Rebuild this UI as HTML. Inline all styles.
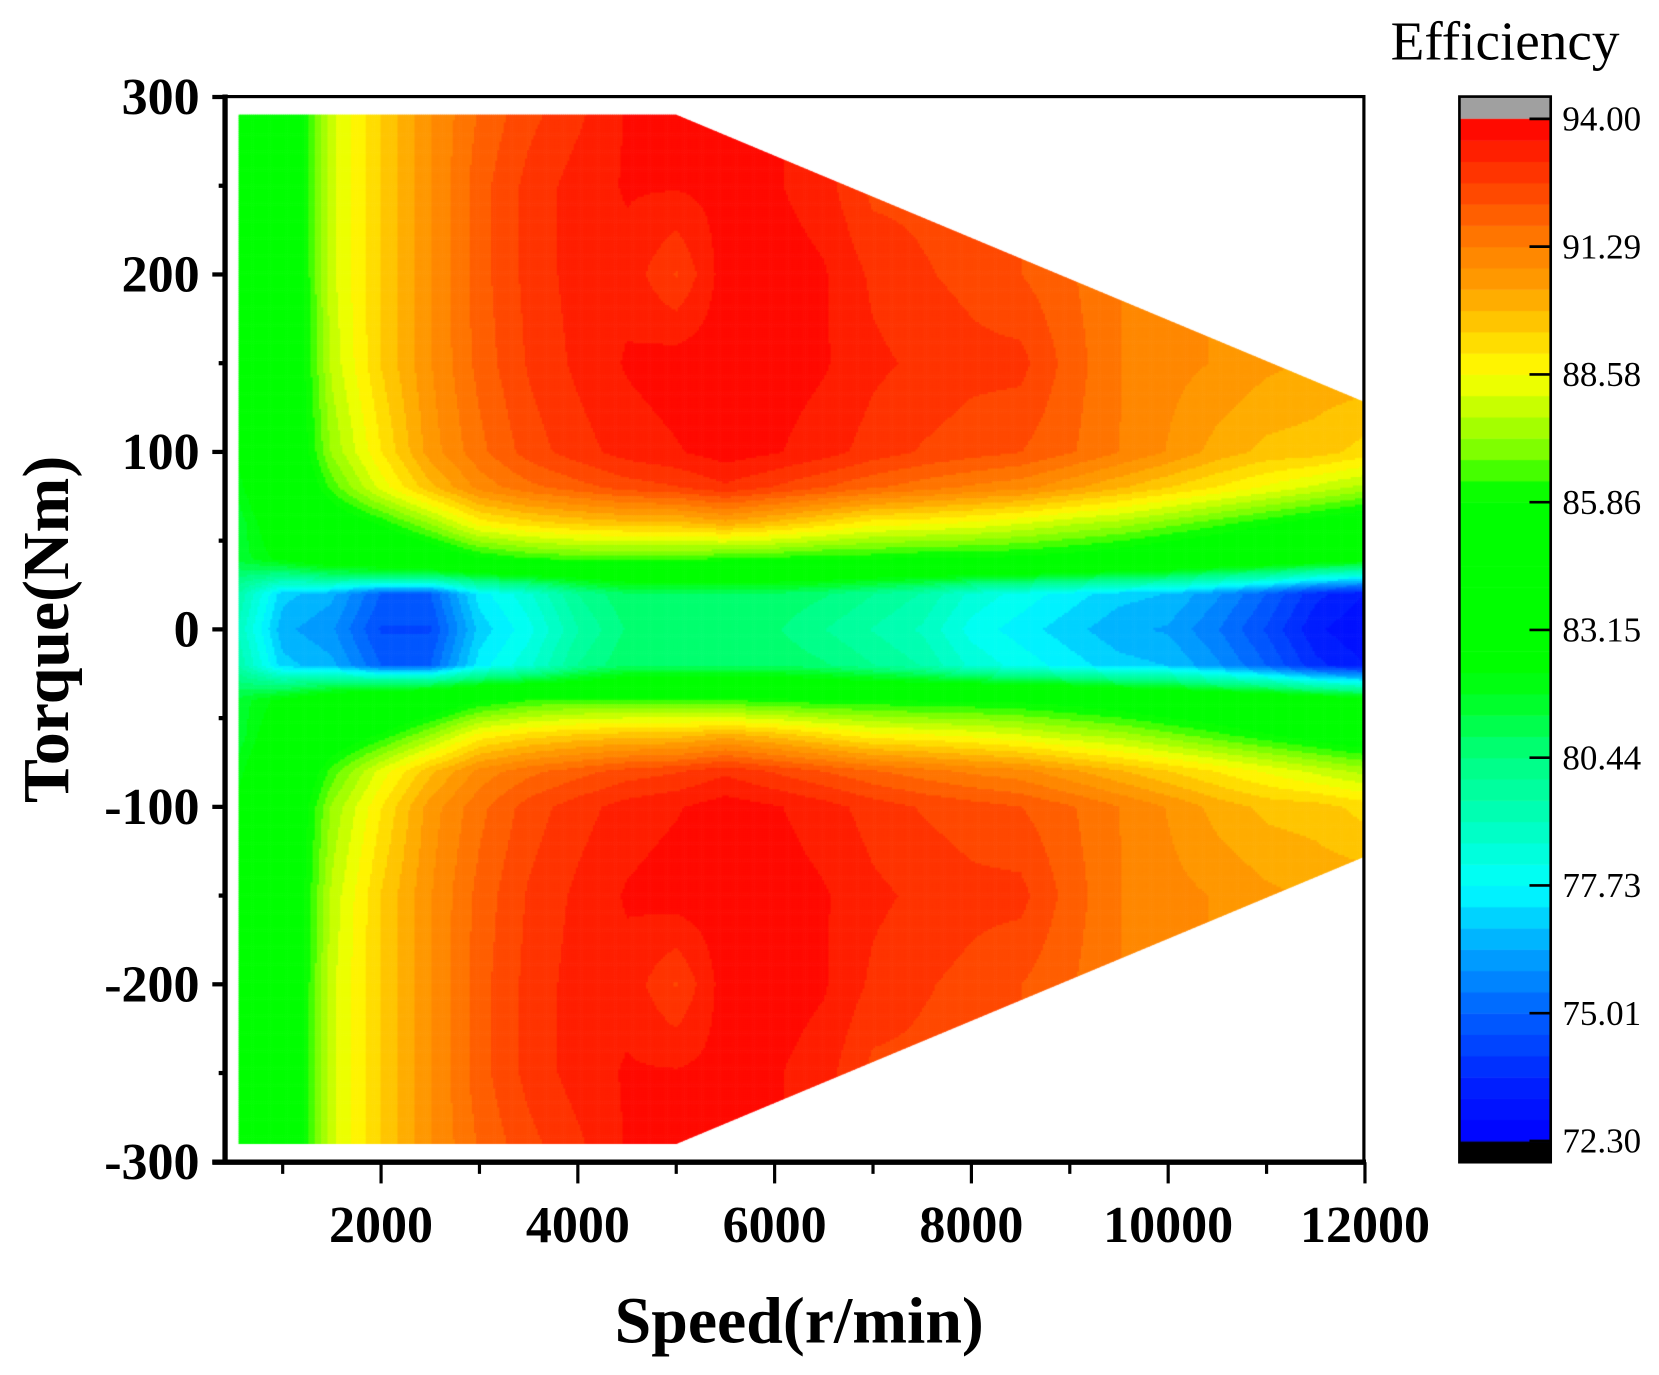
<!DOCTYPE html>
<html><head><meta charset="utf-8">
<style>
html,body{margin:0;padding:0;background:#fff;}
#wrap{position:relative;width:1659px;height:1375px;overflow:hidden;}
canvas,svg{position:absolute;left:0;top:0;}
text{font-family:"Liberation Serif",serif;}
</style></head>
<body>
<div id="wrap">
<canvas id="cv" width="1659" height="1375"></canvas>
<svg id="sv" width="1659" height="1375" viewBox="0 0 1563 1295.5"></svg>
</div>
<script>
// ---- data ----
const speeds = [550,1000,1500,2000,2500,3000,3500,4000,4500,5000,5500,6000,6500,7000,7500,8000,8500,9000,9500,10000,10500,11000,11500,12000];
const torques = [0,20,30,40,60,80,100,150,200,250,290]; // |torque|, map symmetric
const eff = [
 [79.0,79.5,80.5,81.5,81.5,82.0,82.5,82.5,82.5,82.5,82.5],
 [76.5,77.0,80.0,82.5,83.2,84.0,84.3,84.3,84.3,84.3,84.3],
 [76.0,76.5,80.5,83.5,85.0,86.5,87.3,87.8,88.0,88.0,88.0],
 [74.5,75.0,80.5,84.0,86.0,88.3,89.0,89.5,89.5,89.5,89.5],
 [74.5,75.0,80.5,84.8,87.3,89.8,90.6,90.8,90.8,90.8,90.8],
 [77.0,77.5,81.5,85.8,88.8,91.0,91.6,91.9,92.0,92.0,91.8],
 [78.0,78.5,82.0,86.3,89.3,91.6,92.4,92.7,92.8,92.8,92.5],
 [79.5,80.0,82.5,86.5,89.6,92.0,92.9,93.2,93.3,93.3,93.0],
 [80.5,80.8,83.0,86.5,89.8,92.4,93.3,93.6,93.4,93.6,93.6],
 [80.5,80.8,83.0,86.5,89.8,92.6,93.5,93.8,92.6,93.6,93.6],
 [80.5,80.8,83.0,86.3,90.2,93.0,93.8,93.8,93.8,93.7,93.7],
 [80.5,80.8,83.0,86.2,89.8,92.6,93.6,93.8,93.8,93.6,93.6],
 [80.0,80.5,82.8,86.0,89.3,92.2,93.3,93.6,93.6,93.3,93.3],
 [79.5,80.0,82.5,86.0,88.8,91.8,92.9,93.2,93.0,92.5,92.5],
 [79.0,79.5,82.3,85.8,88.7,91.5,92.6,93.0,92.7,92.5,92.5],
 [78.0,78.5,82.0,85.8,88.5,91.2,92.4,92.8,92.5,92.5,92.5],
 [77.5,78.0,81.8,85.7,88.2,91.0,92.2,92.8,92.2,92.2,92.2],
 [77.0,77.5,81.5,85.5,87.8,90.5,91.8,92.0,91.8,91.8,91.8],
 [76.5,77.0,81.0,85.2,87.5,90.0,91.3,91.3,91.3,91.3,91.3],
 [76.3,76.8,80.8,84.8,87.0,89.5,90.8,91.0,91.0,91.0,91.0],
 [75.5,76.0,80.0,84.5,86.5,89.0,90.2,90.8,90.8,90.8,90.8],
 [74.5,75.0,79.5,84.0,86.0,88.5,89.8,90.5,90.5,90.5,90.5],
 [73.3,73.8,78.5,83.5,85.5,88.0,89.7,90.3,90.3,90.3,90.3],
 [72.8,73.2,78.0,83.0,85.0,87.5,89.3,90.3,90.3,90.3,90.3]
];
const envSpeed = [550,5000,12000];
const envTorque = [290,290,128];
const xTicks = [2000,4000,6000,8000,10000,12000];
const yTicks = [300,200,100,0,-100,-200,-300];
const cbLabels = ["94.00","91.29","88.58","85.86","83.15","80.44","77.73","75.01","72.30"];
const vMin = 72.3, vMax = 94.0, nLevels = 48;

// ---- scales (in 1563-wide view coords) ----
const K = 1659/1563;
const L=212, R=1285, T=91, B=1095;
const sx = s => 173.6 + (s)*0.0927;
const sy = t => 593 - t*1.672;

const stops = [[72.3,[0,0,255]],[73.5,[0,32,255]],[75,[0,96,255]],[76.4,[0,168,255]],[77.7,[0,255,255]],[79,[0,255,192]],[80.44,[0,255,128]],[81.5,[0,255,48]],[82.3,[0,255,0]],[86.0,[0,255,0]],[87,[128,255,0]],[88.58,[255,255,0]],[89.5,[255,208,0]],[90.4,[255,160,0]],[91.29,[255,128,0]],[92.6,[255,64,0]],[94,[255,0,0]]];
function cmap(v){
  if(v<=stops[0][0]) return stops[0][1];
  for(let i=1;i<stops.length;i++){ if(v<=stops[i][0]){ const a=stops[i-1],b=stops[i],f=(v-a[0])/(b[0]-a[0]); return a[1].map((c,j)=>Math.round(c+(b[1][j]-c)*f)); } }
  return stops[stops.length-1][1];
}
function levelColor(v){
  const step=(vMax-vMin)/nLevels;
  let k=Math.floor((v-vMin)/step); k=Math.max(0,Math.min(nLevels-1,k));
  const c=cmap(vMin+(k+0.5)*step); return `rgb(${c[0]},${c[1]},${c[2]})`;
}
function seg(arr,v){ let i=0; while(i<arr.length-2 && v>arr[i+1]) i++; let f=(v-arr[i])/(arr[i+1]-arr[i]); f=Math.max(0,Math.min(1,f)); return [i,f]; }
function value(s,t){
  const [i,fi]=seg(speeds,s), [j,fj]=seg(torques,Math.abs(t));
  const a=eff[i][j]*(1-fj)+eff[i][j+1]*fj, b=eff[i+1][j]*(1-fj)+eff[i+1][j+1]*fj;
  return a*(1-fi)+b*fi;
}

// ---- field ----
const cv=document.getElementById('cv'), ctx=cv.getContext('2d');
ctx.scale(K,K);
ctx.save();
ctx.beginPath();
ctx.moveTo(sx(envSpeed[0]),sy(envTorque[0]));
for(let i=1;i<envSpeed.length;i++) ctx.lineTo(sx(envSpeed[i]),sy(envTorque[i]));
for(let i=envSpeed.length-1;i>=0;i--) ctx.lineTo(sx(envSpeed[i]),sy(-envTorque[i]));
ctx.closePath(); ctx.clip();
const step=2;
for(let px=sx(speeds[0]); px<sx(12000); px+=step){
  const s=(px+step/2-173.6)/0.0927;
  for(let py=sy(300); py<sy(-300); py+=step){
    const t=(593-(py+step/2))/1.672;
    ctx.fillStyle=levelColor(value(s,t));
    ctx.fillRect(px,py,step+0.6,step+0.6);
  }
}
ctx.restore();

// ---- colorbar ----
const cbX=1375, cbW=86, cbTop=112, cbBot=1075;
ctx.fillStyle='#a0a0a0'; ctx.fillRect(cbX,T,cbW,cbTop-T);
ctx.fillStyle='#000'; ctx.fillRect(cbX,cbBot,cbW,B-cbBot);
const bh=(cbBot-cbTop)/nLevels;
for(let k=0;k<nLevels;k++){
  const v=vMin+(k+0.5)*(vMax-vMin)/nLevels;
  ctx.fillStyle=levelColor(v);
  ctx.fillRect(cbX,cbBot-(k+1)*bh,cbW,bh+0.5);
}

// ---- svg axes ----
const NS='http://www.w3.org/2000/svg', svg=document.getElementById('sv');
function el(tag,attrs,txt){ const e=document.createElementNS(NS,tag); for(const k in attrs) e.setAttribute(k,attrs[k]); if(txt!==undefined) e.textContent=txt; svg.appendChild(e); return e; }
let e;
e=el('rect',{x:L,y:T,width:R-L,height:B-T,fill:'none',stroke:'#000','stroke-width':3});


e=el('line',{x1:L,y1:T-2,x2:L,y2:B+2,stroke:'#000','stroke-width':5});


e=el('line',{x1:L-12,y1:B,x2:R+2,y2:B,stroke:'#000','stroke-width':5});


for(let s=1000;s<=12000;s+=1000){
  const major=s%2000===0;
  e=el('line',{x1:sx(s),y1:B,x2:sx(s),y2:B+(major?20:11),stroke:'#000','stroke-width':3});
  
  
}
xTicks.forEach(s=>{
  e=el('text',{x:sx(s),y:1170,'text-anchor':'middle','font-size':49,'font-weight':'bold'},String(s));
  
  
});
for(let t=-300;t<=300;t+=50){
  const major=t%100===0;
  e=el('line',{x1:L,y1:sy(t),x2:L-(major?12:6),y2:sy(t),stroke:'#000','stroke-width':4});
  
  
}
yTicks.forEach(t=>{
  e=el('text',{x:188,y:sy(t)+16,'text-anchor':'end','font-size':49,'font-weight':'bold'},String(t));
  
  
});
e=el('text',{x:753,y:1265,'text-anchor':'middle','font-size':62,'font-weight':'bold'},'Speed(r/min)');


e=el('text',{x:0,y:0,'text-anchor':'middle','font-size':62,'font-weight':'bold',transform:'translate(64,593) rotate(-90)'},'Torque(Nm)');


e=el('rect',{x:cbX,y:T,width:cbW,height:B-T,fill:'none',stroke:'#000','stroke-width':2.5});


cbLabels.forEach((lab,i)=>{
  const y=cbTop+i*(cbBot-cbTop)/(cbLabels.length-1);
  e=el('line',{x1:cbX+cbW-20,y1:y,x2:cbX+cbW,y2:y,stroke:'#000','stroke-width':2.5});
  
  
  e=el('text',{x:1472,y:y+11,'font-size':33},lab);
  
  
});
e=el('text',{x:1418,y:56,'text-anchor':'middle','font-size':52},'Efficiency');


</script>
</body></html>
